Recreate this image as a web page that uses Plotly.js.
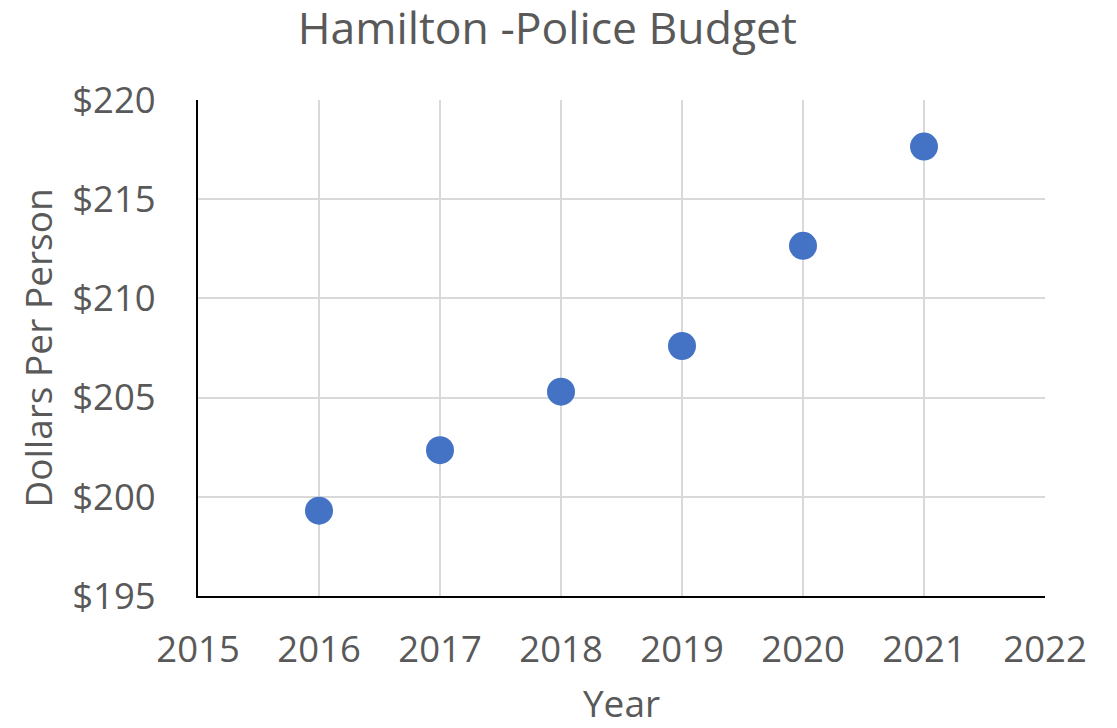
<!DOCTYPE html>
<html>
<head>
<meta charset="utf-8">
<script src="https://cdn.plot.ly/plotly-3.0.1.min.js"></script>
<style>html,body{margin:0;padding:0;background:#fff;}#chart{width:1117px;height:728px;}</style>
</head>
<body>
<div id="chart"></div>
<script>
const years = [2016, 2017, 2018, 2019, 2020, 2021];
const dollarsPerPerson = [199.3, 202.35, 205.3, 207.6, 212.65, 217.65];
const yTickVals = [195, 200, 205, 210, 215, 220];
const yTickText = ['$195', '$200', '$205', '$210', '$215', '$220'];

const font = 'Open Sans, sans-serif';
const grey = '#595959';

Plotly.newPlot('chart', [{
  x: years,
  y: dollarsPerPerson,
  type: 'scatter',
  mode: 'markers',
  marker: {color: '#4472C4', size: 28},
  hoverinfo: 'x+y'
}], {
  width: 1117,
  height: 728,
  margin: {l: 198, r: 72, t: 100, b: 132},
  paper_bgcolor: '#fff',
  plot_bgcolor: '#fff',
  showlegend: false,
  title: {text: 'Hamilton -Police Budget', x: 0.49, xanchor: 'center', y: 0.961, yanchor: 'middle',
          font: {family: font, size: 44.5, color: grey}},
  xaxis: {
    range: [2015, 2022], dtick: 1, tick0: 2015,
    showgrid: true, gridcolor: '#d9d9d9', gridwidth: 1.5,
    showline: true, linecolor: '#000', linewidth: 2,
    zeroline: false, ticks: '', ticklabelstandoff: 20,
    tickfont: {family: font, size: 36.5, color: grey},
    title: {text: 'Year', font: {family: font, size: 37, color: grey}, standoff: 28}
  },
  yaxis: {
    range: [195, 220], tickvals: yTickVals, ticktext: yTickText,
    showgrid: true, gridcolor: '#d9d9d9', gridwidth: 1.5,
    showline: true, linecolor: '#000', linewidth: 2,
    zeroline: false, ticks: '', ticklabelstandoff: 33,
    tickfont: {family: font, size: 36.5, color: grey},
    title: {text: 'Dollars Per Person', font: {family: font, size: 37, color: grey}, standoff: 8}
  }
}, {displayModeBar: false});
</script>
</body>
</html>
